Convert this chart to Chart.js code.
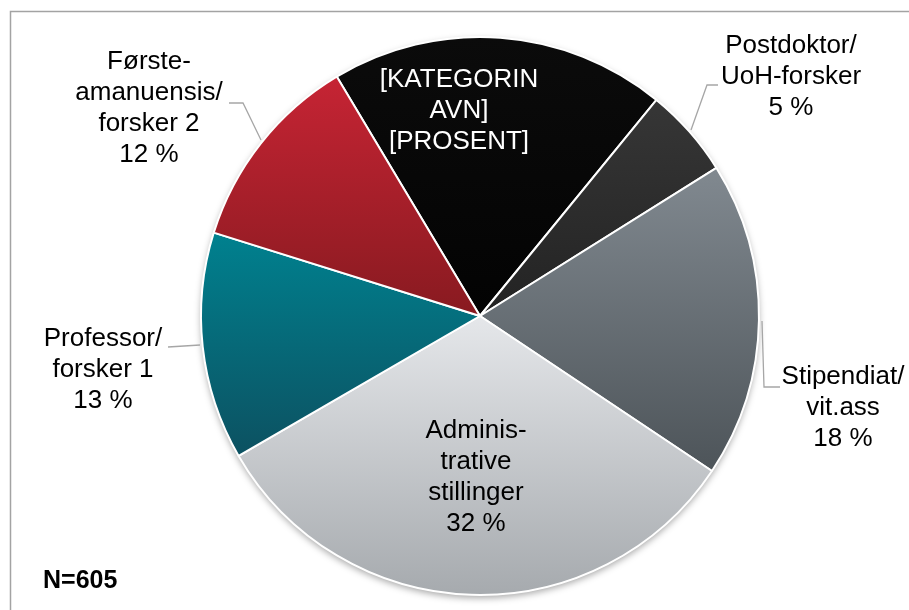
<!DOCTYPE html>
<html>
<head>
<meta charset="utf-8">
<script src="https://cdn.jsdelivr.net/npm/chart.js@4/dist/chart.umd.min.js"></script>
<style>
    html, body { margin: 0; padding: 0; background: #ffffff; }
    #wrap { width: 909px; height: 610px; position: relative; }
</style>
</head>
<body>
<div id="wrap"><canvas id="pieChart" width="909" height="610"></canvas></div>
<script>
// data, clockwise from the black slice
const categories = ['[KATEGORINAVN]', 'Postdoktor/UoH-forsker', 'Stipendiat/vit.ass', 'Administrative stillinger', 'Professor/forsker 1', 'Førsteamanuensis/forsker 2'];
const shares = [19.5, 5.2, 18.3, 32.3, 13.2, 11.6];
const labelLines = [
    ['[KATEGORIN', 'AVN]', '[PROSENT]'],
    ['Postdoktor/', 'UoH-forsker', '5 %'],
    ['Stipendiat/', 'vit.ass', '18 %'],
    ['Adminis-', 'trative', 'stillinger', '32 %'],
    ['Professor/', 'forsker 1', '13 %'],
    ['Første-', 'amanuensis/', 'forsker 2', '12 %']
];
const noteText = 'N=605';

const topColors = ['#0b0b0b', '#363636', '#818990', '#e5e7ea', '#00818f', '#c62434'];
const bottomColors = ['#030303', '#232323', '#4d5459', '#a6aaae', '#0c5161', '#881a20'];
const startRotation = -30.9;
const PIE_R = 279;

// label placement relative to pie centre
const labelPos = [
    { dx: -21, dy: -236, color: '#ffffff' },
    { dx: 311, dy: -270, color: '#000000' },
    { dx: 363, dy: 61, color: '#000000' },
    { dx: -4, dy: 115, color: '#000000' },
    { dx: -377, dy: 23, color: '#000000' },
    { dx: -331, dy: -254, color: '#000000' }
];
const leaders = [
    null,
    [[238, -231], [227, -231], [211, -186]],
    [[300, 71], [284, 71], [282, 5]],
    null,
    [[-312, 31], [-280, 29]],
    [[-251, -213], [-237, -213], [-219, -176]]
];

function sliceGradient(ctx) {
    const chart = ctx.chart;
    const area = chart.chartArea;
    const i = ctx.dataIndex;
    if (!area || i === undefined) return topColors[i || 0];
    const cx = (area.left + area.right) / 2;
    const cy = (area.top + area.bottom) / 2;
    const total = shares.reduce((a, b) => a + b, 0);
    let a0 = startRotation;
    for (let j = 0; j < i; j++) a0 += shares[j] / total * 360;
    const a1 = a0 + shares[i] / total * 360;
    const yAt = a => cy - PIE_R * Math.cos(a * Math.PI / 180);
    const ys = [cy, yAt(a0), yAt(a1)];
    for (let k = -360; k <= 720; k += 180) {
        if (k > a0 && k < a1) ys.push(yAt(k));
    }
    const y0 = Math.min(...ys), y1 = Math.max(...ys);
    const g = chart.ctx.createLinearGradient(0, y0, 0, y1);
    g.addColorStop(0, topColors[i]);
    g.addColorStop(1, bottomColors[i]);
    return g;
}

const frameAndShadow = {
    id: 'frameAndShadow',
    beforeDraw(chart) {
        const c = chart.ctx;
        c.save();
        c.fillStyle = '#ffffff';
        c.fillRect(0, 0, chart.width, chart.height);
        c.strokeStyle = '#a3a3a3';
        c.lineWidth = 1.5;
        c.strokeRect(10.5, 11.5, 1200, 1200);
        c.restore();
    },
    beforeDatasetsDraw(chart) {
        const arc = chart.getDatasetMeta(0).data[0];
        if (!arc) return;
        const c = chart.ctx;
        c.save();
        c.shadowColor = 'rgba(0,0,0,0.35)';
        c.shadowBlur = 7;
        c.shadowOffsetY = 3;
        c.fillStyle = '#ffffff';
        c.beginPath();
        c.arc(arc.x, arc.y, arc.outerRadius, 0, Math.PI * 2);
        c.fill();
        c.restore();
    }
};

const pieLabels = {
    id: 'pieLabels',
    afterDatasetsDraw(chart) {
        const arc = chart.getDatasetMeta(0).data[0];
        if (!arc) return;
        const cx = arc.x, cy = arc.y;
        const c = chart.ctx;
        c.save();
        c.strokeStyle = '#a6a6a6';
        c.lineWidth = 1.3;
        leaders.forEach(pts => {
            if (!pts) return;
            c.beginPath();
            pts.forEach((p, k) => {
                if (k === 0) c.moveTo(cx + p[0], cy + p[1]);
                else c.lineTo(cx + p[0], cy + p[1]);
            });
            c.stroke();
        });
        c.font = '26px "Liberation Sans", Arial, sans-serif';
        c.textAlign = 'center';
        c.textBaseline = 'middle';
        labelLines.forEach((lines, i) => {
            const pos = labelPos[i];
            c.fillStyle = pos.color;
            lines.forEach((txt, k) => {
                c.fillText(txt, cx + pos.dx, cy + pos.dy + k * 31);
            });
        });
        c.font = 'bold 25px "Liberation Sans", Arial, sans-serif';
        c.textAlign = 'left';
        c.fillStyle = '#000000';
        c.fillText(noteText, 43, 581);
        c.restore();
    }
};

new Chart(document.getElementById('pieChart').getContext('2d'), {
    type: 'pie',
    data: {
        labels: categories,
        datasets: [{
            data: shares,
            backgroundColor: sliceGradient,
            borderColor: '#ffffff',
            borderWidth: 2,
            radius: PIE_R
        }]
    },
    options: {
        responsive: false,
        animation: false,
        rotation: startRotation,
        layout: { padding: { left: 51, right: 0, top: 36, bottom: 14 } },
        plugins: {
            legend: { display: false },
            tooltip: { enabled: false }
        }
    },
    plugins: [frameAndShadow, pieLabels]
});
</script>
</body>
</html>
